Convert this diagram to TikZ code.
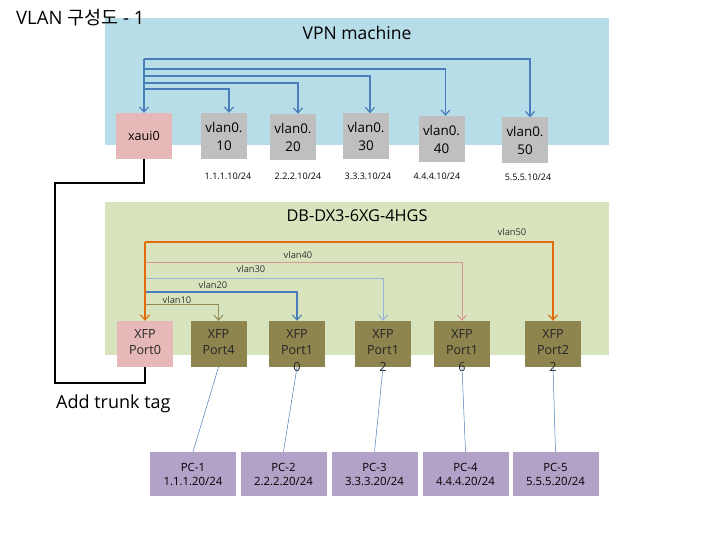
\documentclass[tikz,border=0pt]{standalone}
\usepackage{fontspec}
\setmainfont{Open Sans}
\newfontfamily\krfont{Noto Sans CJK KR}
\usetikzlibrary{arrows.meta}
\definecolor{vpnbg}{RGB}{183,221,232}
\definecolor{dbbg}{RGB}{215,228,189}
\definecolor{pinkbox}{RGB}{230,185,184}
\definecolor{graybox}{RGB}{191,191,191}
\definecolor{olivebox}{RGB}{142,132,78}
\definecolor{pcbox}{RGB}{179,162,199}
\definecolor{lnblue}{RGB}{74,126,187}
\definecolor{lnorange}{RGB}{228,108,10}
\definecolor{lnsalmon}{RGB}{217,150,148}
\definecolor{lnlblue}{RGB}{149,179,215}
\definecolor{lnolive}{RGB}{148,138,84}
\tikzset{
  tip/.style={-{Straight Barb[length=5pt,width=9pt]}},
  vbox/.style={fill=graybox, minimum width=46pt, minimum height=46pt, inner sep=0pt, align=center, font=\fontsize{13.4}{18}\selectfont},
  xbox/.style={fill=pinkbox, minimum width=56pt, minimum height=46pt, inner sep=0pt, align=center, font=\fontsize{12.6}{15}\selectfont},
  portbox/.style={fill=olivebox, minimum width=56pt, minimum height=46pt, inner sep=0pt},
  pinkport/.style={fill=pinkbox, minimum width=56pt, minimum height=46pt, inner sep=0pt},
  plbl/.style={anchor=north, align=center, yshift=-8.5pt, inner sep=0pt, font=\fontsize{12.6}{16.5}\selectfont, text=black!85},
  pcnode/.style={fill=pcbox, minimum width=86pt, minimum height=44pt, inner sep=0pt, align=center, font=\fontsize{11.4}{14}\selectfont},
  iplbl/.style={font=\fontsize{9}{10}\selectfont},
  vlbl/.style={font=\fontsize{9.3}{10}\selectfont, text=black!80, inner sep=0pt},
  bl/.style={draw=lnblue, line width=1.2pt, tip},
  trunk/.style={draw=black, line width=1.8pt},
  pcl/.style={draw=lnblue, line width=0.5pt}
}
\begin{document}
\begin{tikzpicture}[x=1pt,y=-1pt]
\useasboundingbox (0,0) rectangle (720,540);
% backgrounds
\fill[vpnbg] (105,18) rectangle (609,145);
\fill[dbbg] (105,202) rectangle (609,355);
% titles
\node[font=\fontsize{18.5}{21}\selectfont, anchor=west, inner sep=0pt] (title) at (16,18) {VLAN {\krfont 구성도} - 1};
\node[font=\fontsize{17.5}{20}\selectfont] (vpnt) at (357,33) {VPN machine};
\node[font=\fontsize{16.3}{20}\selectfont] (dbt) at (357,216) {DB-DX3-6XG-4HGS};
\node[font=\fontsize{18}{20}\selectfont, anchor=west, inner sep=0pt] (trunkt) at (56,404) {Add trunk tag};
% VPN boxes
\node[xbox] (xaui) at (144,136) {xaui0};
\node[vbox] (v10) at (224,136) {vlan0.\\10};
\node[vbox] (v20) at (293,137) {vlan0.\\20};
\node[vbox] (v30) at (366,136.5) {vlan0.\\30};
\node[vbox] (v40) at (441.5,139) {vlan0.\\40};
\node[vbox] (v50) at (525,140.5) {vlan0.\\50};
\node[iplbl] (ip1) at (228,176) {1.1.1.10/24};
\node[iplbl] (ip2) at (298,176) {2.2.2.10/24};
\node[iplbl] (ip3) at (368,176) {3.3.3.10/24};
\node[iplbl] (ip4) at (437,176) {4.4.4.10/24};
\node[iplbl] (ip5) at (528,177) {5.5.5.10/24};
% VPN arrows
\draw[bl] (xaui.north |- 0,59) -| ([xshift=5pt]v50.north);
\draw[bl] (xaui.north |- 0,69) -| ([xshift=4pt]v40.north);
\draw[bl] (xaui.north |- 0,76) -| ([xshift=4pt]v30.north);
\draw[bl] (xaui.north |- 0,83) -| ([xshift=5pt]v20.north);
\draw[bl] (xaui.north |- 0,89) -| ([xshift=5pt]v10.north);
\draw[bl] (xaui.north |- 0,59) -- (xaui.north);
% ports
\node[pinkport, label={[plbl]north:XFP\\Port0}] (p0) at (145,344) {};
\node[portbox, label={[plbl]north:XFP\\Port4}] (p4) at (218.5,344) {};
\node[portbox, label={[plbl]north:XFP\\Port1\\0}] (p10) at (297,344) {};
\node[portbox, label={[plbl]north:XFP\\Port1\\2}] (p12) at (383,344) {};
\node[portbox, label={[plbl]north:XFP\\Port1\\6}] (p16) at (462,344) {};
\node[portbox, label={[plbl]north:XFP\\Port2\\2}] (p22) at (553,344) {};
% vlan paths in switch
\draw[draw=lnolive, line width=1pt, tip] (p0.north |- 0,304) -| (p4.north);
\draw[draw=lnblue, line width=1.1pt, tip] (p0.north |- 0,292) -| (p10.north);
\draw[draw=lnlblue, line width=1pt, tip] (p0.north |- 0,278) -| (p12.north);
\draw[draw=lnsalmon, line width=1pt, tip] (p0.north |- 0,262) -| (p16.north);
\draw[draw=lnorange, line width=1.2pt, tip] (p0.north |- 0,242) -| (p22.north);
\draw[draw=lnorange, line width=1.2pt, tip] (p0.north |- 0,242) -- (p0.north);
\node[vlbl] (l10) at (177,300) {vlan10};
\node[vlbl] (l20) at (213,285) {vlan20};
\node[vlbl] (l30) at (251,269) {vlan30};
\node[vlbl] (l40) at (298,255) {vlan40};
\node[vlbl] (l50) at (512,232) {vlan50};
% trunk
\draw[trunk] (xaui.south) -- ++(0,24) -| (55,383) -| (p0.south);
% PCs
\node[pcnode] (pc1) at (193,474) {PC-1\\1.1.1.20/24};
\node[pcnode] (pc2) at (283.5,474) {PC-2\\2.2.2.20/24};
\node[pcnode] (pc3) at (374.5,474) {PC-3\\3.3.3.20/24};
\node[pcnode] (pc4) at (465.5,474) {PC-4\\4.4.4.20/24};
\node[pcnode] (pc5) at (555.5,474) {PC-5\\5.5.5.20/24};
\draw[pcl] (p4.south) -- (pc1.north);
\draw[pcl] (p10.south) -- (pc2.north);
\draw[pcl] (p12.south) -- (pc3.north);
\draw[pcl] (p16.south) -- (pc4.north);
\draw[pcl] (p22.south) -- (pc5.north);
\end{tikzpicture}
\end{document}
